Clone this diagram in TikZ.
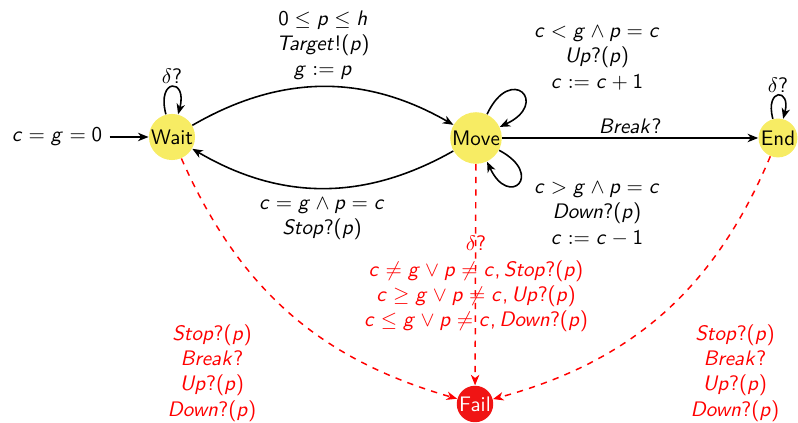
\documentclass[tikz,border=0pt]{standalone}
\usetikzlibrary{arrows.meta}
\DeclareSymbolFont{sfletters}{OT1}{cmss}{m}{sl}
\DeclareSymbolFont{sfops}{OT1}{cmss}{m}{n}
\newcommand\sfmathletter[1]{\DeclareMathSymbol{#1}{\mathalpha}{sfletters}{`#1}}
\sfmathletter a\sfmathletter b\sfmathletter c\sfmathletter d\sfmathletter e
\sfmathletter g\sfmathletter h\sfmathletter k\sfmathletter n\sfmathletter o
\sfmathletter p\sfmathletter r\sfmathletter t\sfmathletter w
\sfmathletter B\sfmathletter D\sfmathletter S\sfmathletter T\sfmathletter U
\DeclareMathSymbol{0}{\mathalpha}{sfops}{`0}
\DeclareMathSymbol{1}{\mathalpha}{sfops}{`1}
\DeclareMathSymbol{?}{\mathclose}{sfops}{`?}
\DeclareMathSymbol{!}{\mathclose}{sfops}{`!}
\DeclareMathSymbol{(}{\mathopen}{sfops}{`(}
\DeclareMathSymbol{)}{\mathclose}{sfops}{`)}
\DeclareMathSymbol{,}{\mathpunct}{sfops}{`,}
\definecolor{stateyellow}{RGB}{247,236,100}
\definecolor{failred}{RGB}{240,20,20}
\begin{document}
\begin{tikzpicture}[x=0.476pt,y=-0.476pt,
  font=\sffamily,
  >={Stealth[length=5pt,width=4pt,inset=1.5pt]},
  state/.style={circle,fill=stateyellow,inner sep=0.3pt},
  failstate/.style={circle,fill=failred,text=white,inner sep=0.3pt},
  trans/.style={->,line width=0.75pt},
  bad/.style={->,red,dashed,line width=0.7pt},
  lbl/.style={align=center,inner sep=0pt}]
\useasboundingbox (0,0) rectangle (798,423);

% states
\node[state] (wait) at (172,137) {Wait};
\node[state] (move) at (476,138) {Move};
\node[state] (end) at (778,138) {End};
\node[failstate] (fail) at (475,404) {Fail};
\node (init) at (57,137) {$c=g=0$};

% transitions
\draw[trans] (init) -- (wait);
\draw[trans] (wait) to[bend left=30] (move);
\draw[trans] (move) to[bend left=30] (wait);
\draw[trans] (wait) to[loop above] node[above,inner sep=1pt]{$\delta?$} (wait);
\draw[trans] (end) to[loop above] node[above,inner sep=1pt]{$\delta?$} (end);
\draw[trans] (move) to[out=65,in=25,looseness=8,min distance=5mm] (move);
\draw[trans] (move) to[out=-28,in=-65,looseness=8,min distance=5mm] (move);
\draw[trans] (move) -- node[above,inner sep=2pt]{$Break?$} (end);

% bad transitions
\draw[bad] (wait) to[bend right=25] (fail);
\draw[bad] (move) -- (fail);
\draw[bad] (end) to[bend left=26] (fail);

% labels
\node[lbl] (lwm) at (323,45) {$0\leq p\leq h$\\$Target!(p)$\\$g:=p$};
\node[lbl] (lmw) at (322,219) {$c=g\wedge p=c$\\$Stop?(p)$};
\node[lbl] (lup) at (597,58) {$c<g\wedge p=c$\\$Up?(p)$\\$c:=c+1$};
\node[lbl] (ldown) at (597,214) {$c>g\wedge p=c$\\$Down?(p)$\\$c:=c-1$};
\node[lbl,red] (lwf) at (212,373) {$Stop?(p)$\\$Break?$\\$Up?(p)$\\$Down?(p)$};
\node[lbl,red] (lef) at (735,373) {$Stop?(p)$\\$Break?$\\$Up?(p)$\\$Down?(p)$};
\node[lbl,red] (lmf) at (476,284) {$\delta?$\\$c\neq g\vee p\neq c, Stop?(p)$\\$c\geq g\vee p\neq c, Up?(p)$\\$c\leq g\vee p\neq c, Down?(p)$};
\end{tikzpicture}
\end{document}
